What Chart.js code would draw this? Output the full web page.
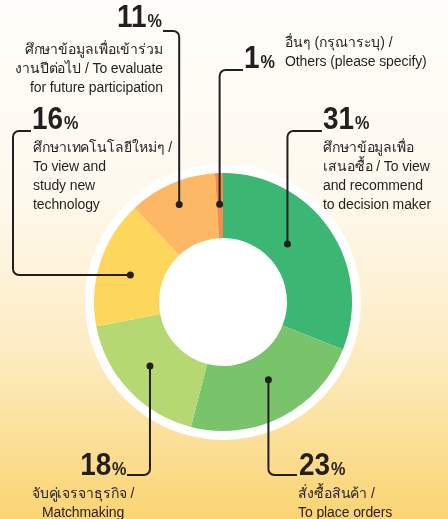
<!DOCTYPE html>
<html>
<head>
<meta charset="utf-8">
<script src="https://cdn.jsdelivr.net/npm/chart.js@4.4.1/dist/chart.umd.min.js"></script>
<style>
  html, body { margin: 0; padding: 0; }
  body {
    width: 448px; height: 519px; overflow: hidden; position: relative;
    background: linear-gradient(to bottom, #fffefa 0%, #fef9ee 38%, #fdecc2 68%, #fbd472 100%);
    font-family: "Liberation Sans", Arial, sans-serif; color: #231f20;
  }
  #chart { position: absolute; left: 0; top: 0; }
  .lbl { position: absolute; white-space: nowrap; }
  .pct { font-family: "Liberation Sans", Arial, sans-serif; font-weight: bold; font-size: 31px; line-height: 1; transform: scaleX(0.9); transform-origin: left top; }
  .pct.r { transform-origin: right top; }
  .pct small { font-size: 18px; margin-left: 1px; }
  .desc { font-size: 14px; line-height: 19px; letter-spacing: -0.1px; }
</style>
</head>
<body>
<canvas id="chart" width="448" height="519"></canvas>
<div id="labels"></div>
<script>
// clockwise from 12 o'clock
const shares = [31, 23, 18, 16, 11, 1];
const categoryLines = [
  ['ศึกษาข้อมูลเพื่อ', 'เสนอซื้อ / To view', 'and recommend', 'to decision maker'],
  ['สั่งซื้อสินค้า /', 'To place orders'],
  ['จับคู่เจรจาธุรกิจ /', 'Matchmaking'],
  ['ศึกษาเทคโนโลยีใหม่ๆ /', 'To view and', 'study new', 'technology'],
  ['ศึกษาข้อมูลเพื่อเข้าร่วม', 'งานปีต่อไป / To evaluate', 'for future participation'],
  ['อื่นๆ (กรุณาระบุ) /', 'Others (please specify)']
];
const segmentColors = ['#3cb773', '#79c46b', '#b6d873', '#fdd65c', '#fcb865', '#f28c4f'];

// where the dot sits inside each slice (fraction along the arc, fraction of ring depth)
const dotSpots = [
  { along: 0.43, depth: 0.35 },
  { along: 0.46, depth: 0.40 },
  { along: 0.53, depth: 0.51 },
  { along: 0.47, depth: 0.50 },
  { along: 0.48, depth: 0.66 },
  { along: 0.45, depth: 0.52 }
];
// leader path from the dot: v = go vertical to y, h = go horizontal to x
const leaderSteps = [
  [['v', 131], ['h', 322]],
  [['v', 475], ['h', 297]],
  [['v', 475], ['h', 127]],
  [['h', 13], ['v', 131], ['h', 31]],
  [['v', 31], ['h', 163]],
  [['v', 70], ['h', 243]]
];
// label boxes: pct = big number, desc = text block
const labelBoxes = [
  { pct: { left: 323, top: 102.5 }, desc: { left: 323, top: 138 } },
  { pct: { left: 299, top: 448.5 }, desc: { left: 298, top: 484 } },
  { pct: { right: 322, top: 448.5 }, desc: { left: 20, width: 126, top: 484, align: 'center' } },
  { pct: { left: 32, top: 103 }, desc: { left: 33, top: 138 } },
  { pct: { right: 286, top: 1 }, desc: { right: 285, top: 40, align: 'right' } },
  { pct: { left: 244, top: 42 }, desc: { left: 285, top: 33 } }
];

const place = (el, pos) => {
  ['left', 'right', 'top', 'width'].forEach(k => { if (pos[k] !== undefined) el.style[k] = pos[k] + 'px'; });
  if (pos.align) el.style.textAlign = pos.align;
};

const holder = document.getElementById('labels');
shares.forEach((v, i) => {
  const pct = document.createElement('div');
  pct.className = 'lbl pct' + (labelBoxes[i].pct.right !== undefined ? ' r' : '');
  pct.innerHTML = v + '<small>%</small>';
  place(pct, labelBoxes[i].pct);
  holder.appendChild(pct);

  const desc = document.createElement('div');
  desc.className = 'lbl desc';
  desc.innerHTML = categoryLines[i].join('<br>');
  place(desc, labelBoxes[i].desc);
  holder.appendChild(desc);
});

const leaders = {
  id: 'leaders',
  beforeDatasetsDraw(chart) {
    const ctx = chart.ctx;
    const p = chart.getDatasetMeta(0).data[0].getProps(['x', 'y', 'outerRadius'], true);
    ctx.save();
    ctx.beginPath();
    ctx.arc(p.x, p.y, p.outerRadius + 9, 0, Math.PI * 2);
    ctx.fillStyle = '#ffffff';
    ctx.fill();
    ctx.restore();
  },
  afterDatasetsDraw(chart) {
    const ctx = chart.ctx;
    chart.getDatasetMeta(0).data.forEach((arc, i) => {
      const p = arc.getProps(['x', 'y', 'startAngle', 'endAngle', 'innerRadius', 'outerRadius'], true);
      const a = p.startAngle + (p.endAngle - p.startAngle) * dotSpots[i].along;
      const r = p.innerRadius + (p.outerRadius - p.innerRadius) * dotSpots[i].depth;
      const pts = [[p.x + r * Math.cos(a), p.y + r * Math.sin(a)]];
      leaderSteps[i].forEach(([dir, v]) => {
        const last = pts[pts.length - 1];
        pts.push(dir === 'v' ? [last[0], v] : [v, last[1]]);
      });
      ctx.save();
      ctx.strokeStyle = '#231f20';
      ctx.lineWidth = 2;
      ctx.beginPath();
      ctx.moveTo(pts[0][0], pts[0][1]);
      for (let k = 1; k < pts.length - 1; k++) {
        ctx.arcTo(pts[k][0], pts[k][1], pts[k + 1][0], pts[k + 1][1], 6);
      }
      ctx.lineTo(pts[pts.length - 1][0], pts[pts.length - 1][1]);
      ctx.stroke();
      ctx.beginPath();
      ctx.arc(pts[0][0], pts[0][1], 3.5, 0, Math.PI * 2);
      ctx.fillStyle = '#231f20';
      ctx.fill();
      ctx.restore();
    });
  }
};

new Chart(document.getElementById('chart'), {
  type: 'doughnut',
  data: {
    labels: categoryLines.map(l => l.join(' ')),
    datasets: [{
      data: shares,
      backgroundColor: segmentColors,
      borderWidth: 0
    }]
  },
  options: {
    responsive: false,
    animation: false,
    cutout: '49.6%',
    layout: { padding: { left: 94, right: 96, top: 173, bottom: 88 } },
    plugins: {
      legend: { display: false },
      tooltip: { enabled: false }
    }
  },
  plugins: [leaders]
});
</script>
</body>
</html>
